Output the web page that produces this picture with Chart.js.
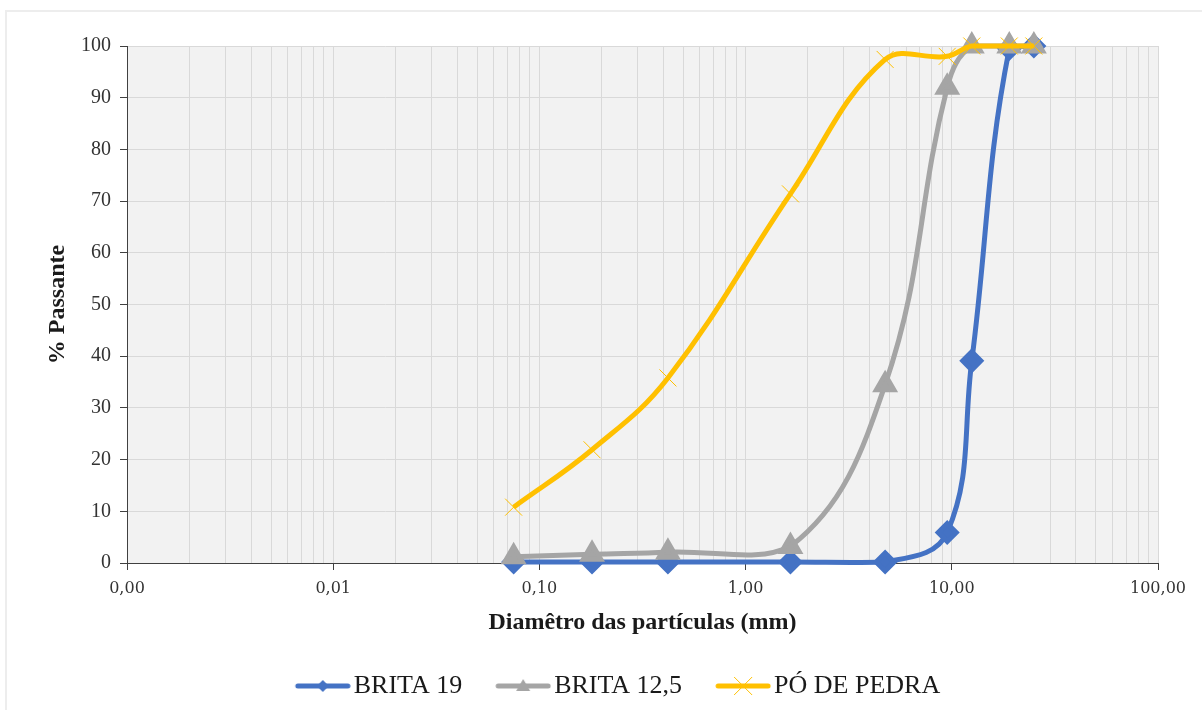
<!DOCTYPE html>
<html lang="pt">
<head>
  <meta charset="utf-8">
  <title>Curva granulométrica</title>
  <script src="https://cdn.jsdelivr.net/npm/chart.js@4.4.1/dist/chart.umd.min.js"></script>
  <style>
    html, body { margin: 0; padding: 0; background: #fff; overflow: hidden; }
    #frame {
      position: absolute; left: 5px; top: 10px; width: 1300px; height: 800px;
      border: 2px solid #ededed;
    }
    #wrap { position: absolute; left: 0; top: 0; width: 1202px; height: 710px; }
  </style>
</head>
<body>
<div id="frame"></div>
<div id="wrap"><canvas id="granulo" width="1202" height="710"></canvas></div>
<script>
// abertura das peneiras (mm)
var diametros = [0.075, 0.18, 0.42, 1.65, 4.75, 9.5, 12.5, 19, 25];
// % passante
var brita19 = [0.2, 0.2, 0.2, 0.2, 0.2, 5.9, 39.1, 99.5, 100];
var brita125 = [1.2, 1.7, 2.1, 3.2, 34.5, 92, 100, 100, 100];
var poDePedra = [10.8, 21.9, 35.8, 71.4, 97.4, 98, 100, 100, 100];

var xDecadas = [0.001, 0.01, 0.1, 1, 10, 100];
var xRotulos = ["0,00", "0,01", "0,10", "1,00", "10,00", "100,00"];
var yRotulos = [0, 10, 20, 30, 40, 50, 60, 70, 80, 90, 100];

var serieNomes = ["BRITA 19", "BRITA 12,5", "PÓ DE PEDRA"];
var cores = ["#4472c4", "#a5a5a5", "#ffc000"];

function pontos(ys) {
  return diametros.map(function(d, i) { return {x: d, y: ys[i]}; });
}

function isDecada(v) {
  for (var i = 0; i < xDecadas.length; i++) {
    if (Math.abs(v - xDecadas[i]) / xDecadas[i] < 1e-6) return i;
  }
  return -1;
}

// icone da legenda: linha com o marcador no meio
function iconeLegenda(cor, tipo) {
  var c = document.createElement("canvas");
  c.width = 76; c.height = 26;
  var g = c.getContext("2d");
  g.strokeStyle = cor; g.lineWidth = 5; g.lineCap = "round";
  g.beginPath(); g.moveTo(23, 13); g.lineTo(73, 13); g.stroke();
  var cx = 48, cy = 13;
  g.fillStyle = cor;
  if (tipo == "diamante") {
    g.beginPath(); g.moveTo(cx, cy - 6); g.lineTo(cx + 6, cy); g.lineTo(cx, cy + 6); g.lineTo(cx - 6, cy); g.closePath(); g.fill();
  } else if (tipo == "triangulo") {
    g.beginPath(); g.moveTo(cx, cy - 7); g.lineTo(cx + 7, cy + 5); g.lineTo(cx - 7, cy + 5); g.closePath(); g.fill();
  } else {
    g.lineWidth = 1; g.lineCap = "butt";
    g.beginPath();
    g.moveTo(cx - 9, cy - 9); g.lineTo(cx + 9, cy + 9);
    g.moveTo(cx + 9, cy - 9); g.lineTo(cx - 9, cy + 9);
    g.stroke();
  }
  return c;
}
var icones = [iconeLegenda(cores[0], "diamante"), iconeLegenda(cores[1], "triangulo"), iconeLegenda(cores[2], "x")];

var fundoPlot = {
  id: "fundoPlot",
  afterLayout: function(chart) {
    // legenda um pouco deslocada para a direita, como no original
    if (chart.legend) { chart.legend.left += 12; chart.legend.right += 12; }
  },
  beforeDraw: function(chart) {
    var a = chart.chartArea, ctx = chart.ctx;
    ctx.save();
    ctx.fillStyle = "#f2f2f2";
    ctx.fillRect(a.left, a.top, a.right - a.left, a.bottom - a.top);
    ctx.restore();
  }
};

var ctx = document.getElementById("granulo").getContext("2d");
new Chart(ctx, {
  type: "line",
  data: {
    datasets: [{
      label: serieNomes[0],
      data: pontos(brita19),
      borderColor: cores[0], backgroundColor: cores[0],
      borderWidth: 5, tension: 0.4,
      pointStyle: "rectRot", pointRadius: 9,
      pointBackgroundColor: cores[0], pointBorderColor: cores[0],
      clip: false, order: 3
    }, {
      label: serieNomes[1],
      data: pontos(brita125),
      borderColor: cores[1], backgroundColor: cores[1],
      borderWidth: 5, tension: 0.4,
      pointStyle: "triangle", pointRadius: 10,
      pointBackgroundColor: cores[1], pointBorderColor: cores[1],
      clip: false, order: 2
    }, {
      label: serieNomes[2],
      data: pontos(poDePedra),
      borderColor: cores[2], backgroundColor: cores[2],
      borderWidth: 5, tension: 0.4,
      pointStyle: "crossRot", pointRadius: 12, pointBorderWidth: 1,
      pointBackgroundColor: cores[2], pointBorderColor: cores[2],
      clip: false, order: 1
    }]
  },
  options: {
    responsive: false,
    animation: false,
    layout: { padding: { left: 43, top: 46, right: 44, bottom: 1 } },
    plugins: {
      tooltip: { enabled: false },
      legend: {
        position: "bottom",
        labels: {
          usePointStyle: true,
          pointStyleWidth: 56,
          padding: 23,
          color: "#1a1a1a",
          font: { family: "'Liberation Serif', 'Times New Roman', serif", size: 26 },
          sort: function(a, b) { return a.datasetIndex - b.datasetIndex; },
          generateLabels: function(chart) {
            var itens = Chart.defaults.plugins.legend.labels.generateLabels(chart);
            itens.forEach(function(it) { it.pointStyle = icones[it.datasetIndex]; });
            return itens;
          }
        }
      }
    },
    scales: {
      x: {
        type: "logarithmic",
        min: 0.001, max: 100,
        afterBuildTicks: function(scale) {
          var t = [];
          for (var i = 0; i < xDecadas.length - 1; i++) {
            for (var k = 1; k < 10; k++) t.push({value: xDecadas[i] * k});
          }
          t.push({value: 100});
          scale.ticks = t;
        },
        afterFit: function(scale) { scale.height = 87; },
        ticks: {
          autoSkip: false, maxRotation: 0, padding: 9,
          color: "#333",
          font: { family: "'DejaVu Serif', serif", size: 16 },
          callback: function(v) {
            var i = isDecada(v);
            return i >= 0 ? xRotulos[i] : "";
          }
        },
        grid: {
          color: "#d9d9d9",
          tickLength: 7,
          tickColor: function(c) {
            return (c.tick && isDecada(c.tick.value) >= 0) ? "#404040" : "rgba(0,0,0,0)";
          }
        },
        border: { color: "#404040", width: 1 },
        title: {
          display: true,
          text: "Diamêtro das partículas (mm)",
          color: "#1a1a1a",
          padding: { top: 0, bottom: 13 },
          font: { family: "'Liberation Serif', 'Times New Roman', serif", size: 24, weight: "bold" }
        }
      },
      y: {
        min: 0, max: 100,
        afterBuildTicks: function(scale) {
          scale.ticks = yRotulos.map(function(v) { return {value: v}; });
        },
        afterFit: function(scale) { scale.width = 84; },
        ticks: {
          padding: 9,
          color: "#333",
          font: { family: "'Liberation Serif', 'Times New Roman', serif", size: 20 }
        },
        grid: { color: "#d9d9d9", tickLength: 7, tickColor: "#404040" },
        border: { color: "#404040", width: 1 },
        title: {
          display: true,
          text: "% Passante",
          color: "#1a1a1a",
          padding: 0,
          font: { family: "'Liberation Serif', 'Times New Roman', serif", size: 24, weight: "bold" }
        }
      }
    }
  },
  plugins: [fundoPlot]
});
</script>
</body>
</html>
